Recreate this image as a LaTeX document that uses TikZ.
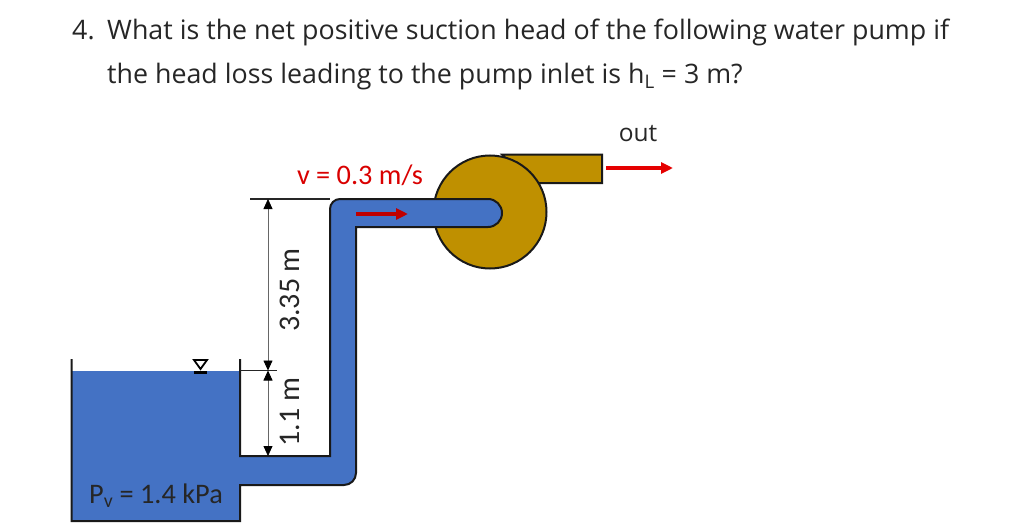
\documentclass[tikz,border=0pt]{standalone}
\usepackage{fontspec}
\setmainfont{Open Sans}
\newfontfamily\carl{Carlito}
\usetikzlibrary{arrows.meta}
\definecolor{water}{HTML}{4472C4}
\definecolor{pumpc}{HTML}{BF9000}
\tikzset{
  title/.style={anchor=base west,inner sep=0pt,font=\fontsize{26.8}{32}\selectfont,text=black!85},
  lab/.style={inner sep=0pt,font=\carl\fontsize{28.3}{34}\selectfont,text=black!85},
  rotlab/.style={inner sep=0pt,rotate=90,font=\carl\fontsize{30}{36}\selectfont,text=black!85},
  dimline/.style={draw=black!60,line width=0.8pt,{Triangle[length=10pt,width=9pt,black]}-{Triangle[length=10pt,width=9pt,black]}},
  extline/.style={draw=black!85,line width=1.2pt},
  outline/.style={draw=black!90,line width=2pt},
  flowa/.style={line width=3.2pt,-{Triangle[length=12pt,width=11pt]}}
}
\begin{document}
\begin{tikzpicture}[x=1pt,y=-1pt]
\useasboundingbox (0,0) rectangle (1024,532);
\node[title] (n4) at (72,40) {4.};
\node[title] (l1) at (107,40) {What is the net positive suction head of the following water pump if};
\node[title] (l2) at (107,84) {the head loss leading to the pump inlet is h\textsubscript{L} = 3 m?};
% outlet and pump
\draw[outline,fill=pumpc] (502,154.5) -- (602,154.5) -- (602,183) -- (530,183) -- cycle;
\node[circle,outline,fill=pumpc,minimum size=113pt,inner sep=0pt] (pump) at (490,212) {};
% water
\fill[water] (72,371) -- (240,371) -- (240,456) -- (330,456) -- (330,209) arc (180:270:10) -- (488,199) arc (-90:90:14) -- (356,227) -- (356,473) arc (0:90:12) -- (240,485) -- (240,521) -- (72,521) -- cycle;
\draw[outline] (71.5,359) -- (71.5,521) -- (240,521) -- (240,485) -- (344,485) arc (90:0:12) -- (356,227) -- (488,227) arc (90:-90:14) -- (340,199) arc (270:180:10) -- (330,456) -- (240,456) -- (240,359);
% extension lines
\coordinate (etop) at (250,199);
\coordinate (etopb) at (330,199);
\coordinate (emidl) at (240,370.5);
\coordinate (emidr) at (277,370.5);
\coordinate (d1) at (268,199);
\coordinate (d2) at (268,370.5);
\coordinate (d3) at (268,456);
\draw[extline] (etop) -- (etopb);
\draw[extline] (emidl) -- (emidr);
\draw[dimline] (d1) -- (d2);
\draw[dimline] (d2) -- (d3);
% level mark
\draw[black,line width=1.8pt] (194,360) -- (207,360) -- (200.5,369) -- cycle;
\draw[black,line width=3pt] (194,372) -- (207,372);
% labels
\node[rotlab] (t335) at (290,290) {3.35 m};
\node[rotlab] (t11) at (290,412) {1.1 m};
\node[lab] (pv) at (156,496) {P\textsubscript{v} = 1.4 kPa};
\node[lab,text=red!85!black] (v) at (360,175) {v = 0.3 m/s};
\node[inner sep=0pt,font=\fontsize{24.5}{29}\selectfont,text=black!85] (out) at (638,134) {out};
% flow arrows
\coordinate (a1) at (606,168);
\coordinate (a2) at (673,168);
\coordinate (b1) at (356,214);
\coordinate (b2) at (408,214);
\draw[flowa,red!90!black] (a1) -- (a2);
\draw[flowa,red!75!black] (b1) -- (b2);
\end{tikzpicture}
\end{document}
